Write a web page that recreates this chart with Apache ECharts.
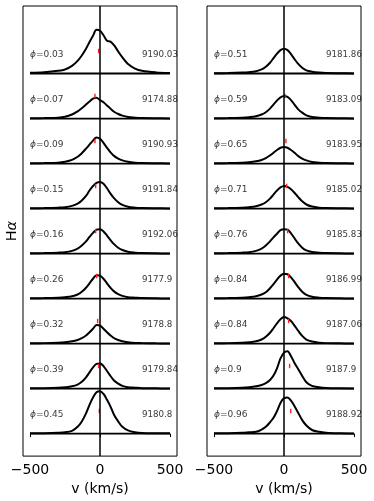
<!DOCTYPE html>
<html>
<head>
<meta charset="utf-8">
<script src="https://cdn.jsdelivr.net/npm/echarts@6/dist/echarts.min.js"></script>
<style>
html,body{margin:0;padding:0;background:#fff;}
#c{width:374px;height:501px;}
</style>
</head>
<body>
<div id="c"></div>
<script>
// velocity grid (km/s)
const velocity = [-500,-400,-300,-250,-200,-160,-130,-100,-75,-50,-25,0,25,50,75,100,130,160,200,250,300,400,500];
const xTicks = [-500, 0, 500];

// left panel (top to bottom)
const leftPhases = ['0.03','0.07','0.09','0.15','0.16','0.26','0.32','0.39','0.45'];
const leftDates = ['9190.03','9174.88','9190.93','9191.84','9192.06','9177.9','9178.8','9179.84','9180.8'];
const leftRV = [-10,-36,-36,-31,-31,-24,-17,-10,-5];
const leftFlux = [
  [0.015,0.03,0.06,0.09,0.17,0.28,0.40,0.55,0.70,0.84,0.97,0.95,0.85,0.73,0.71,0.63,0.49,0.36,0.21,0.11,0.06,0.025,0.012],
  [0.005,0.01,0.02,0.04,0.09,0.16,0.23,0.31,0.38,0.44,0.46,0.41,0.36,0.29,0.22,0.15,0.10,0.065,0.035,0.02,0.01,0.005,0.003],
  [0.005,0.01,0.02,0.04,0.08,0.15,0.23,0.33,0.42,0.51,0.58,0.55,0.46,0.35,0.25,0.17,0.11,0.07,0.04,0.02,0.01,0.005,0.003],
  [0.005,0.01,0.02,0.03,0.06,0.11,0.18,0.28,0.40,0.50,0.57,0.59,0.55,0.45,0.33,0.23,0.14,0.08,0.04,0.02,0.01,0.005,0.003],
  [0.005,0.01,0.02,0.03,0.06,0.11,0.18,0.27,0.37,0.46,0.53,0.54,0.49,0.40,0.30,0.21,0.13,0.08,0.04,0.02,0.01,0.005,0.003],
  [0.005,0.01,0.02,0.03,0.05,0.09,0.15,0.24,0.34,0.44,0.52,0.51,0.44,0.34,0.24,0.16,0.10,0.06,0.03,0.02,0.01,0.005,0.003],
  [0.005,0.01,0.02,0.03,0.05,0.08,0.12,0.18,0.25,0.33,0.41,0.40,0.33,0.25,0.18,0.12,0.08,0.05,0.03,0.015,0.01,0.005,0.003],
  [0.005,0.01,0.02,0.03,0.05,0.09,0.15,0.25,0.36,0.47,0.55,0.56,0.50,0.39,0.28,0.18,0.11,0.06,0.03,0.02,0.01,0.005,0.003],
  [0.005,0.01,0.02,0.03,0.06,0.15,0.27,0.45,0.64,0.80,0.92,0.94,0.88,0.75,0.60,0.42,0.27,0.15,0.07,0.03,0.015,0.008,0.005]
];

// right panel (top to bottom)
const rightPhases = ['0.51','0.59','0.65','0.71','0.76','0.84','0.84','0.9','0.96'];
const rightDates = ['9181.86','9183.09','9183.95','9185.02','9185.83','9186.99','9187.06','9187.9','9188.92'];
const rightRV = [-2,7,14,19,26,33,33,40,48];
const rightFlux = [
  [0.005,0.01,0.02,0.03,0.05,0.09,0.15,0.24,0.34,0.44,0.52,0.55,0.52,0.43,0.32,0.22,0.13,0.07,0.04,0.02,0.01,0.005,0.003],
  [0.005,0.01,0.02,0.03,0.05,0.09,0.14,0.22,0.31,0.40,0.47,0.50,0.48,0.41,0.31,0.21,0.13,0.07,0.035,0.02,0.01,0.005,0.003],
  [0.005,0.01,0.02,0.03,0.05,0.08,0.12,0.18,0.24,0.30,0.35,0.37,0.35,0.30,0.24,0.17,0.11,0.07,0.035,0.02,0.01,0.005,0.003],
  [0.005,0.01,0.02,0.03,0.05,0.09,0.14,0.22,0.31,0.40,0.47,0.50,0.48,0.43,0.35,0.26,0.16,0.09,0.045,0.02,0.01,0.005,0.003],
  [0.005,0.01,0.02,0.03,0.06,0.11,0.18,0.27,0.36,0.44,0.52,0.54,0.53,0.45,0.34,0.23,0.13,0.07,0.035,0.02,0.01,0.005,0.003],
  [0.005,0.01,0.02,0.03,0.05,0.09,0.14,0.23,0.32,0.42,0.51,0.55,0.54,0.47,0.37,0.26,0.15,0.08,0.04,0.02,0.01,0.005,0.003],
  [0.005,0.01,0.02,0.03,0.05,0.09,0.15,0.24,0.34,0.45,0.54,0.59,0.56,0.50,0.40,0.29,0.17,0.09,0.045,0.02,0.01,0.005,0.003],
  [0.005,0.01,0.02,0.03,0.05,0.08,0.12,0.19,0.29,0.45,0.67,0.80,0.83,0.72,0.57,0.44,0.28,0.14,0.06,0.03,0.015,0.006,0.003],
  [0.005,0.01,0.02,0.03,0.04,0.09,0.15,0.25,0.35,0.50,0.68,0.79,0.80,0.73,0.61,0.47,0.30,0.18,0.08,0.04,0.02,0.008,0.004]
];

// stacking offsets (top to bottom)
const offsets = [8,7,6,5,4,3,2,1,0];

const FONT = 'DejaVu Sans';

function panelSeries(gi, flux, rv, phases, dates){
  const s = [];
  flux.forEach((f, i) => {
    s.push({
      type:'line', xAxisIndex:gi, yAxisIndex:gi, smooth:0.35, symbol:'none', silent:true,
      lineStyle:{color:'#000', width:2},
      data: velocity.map((v,k)=>[v, offsets[i]+f[k]]),
      z:3
    });
  });
  // baselines
  const base = [];
  offsets.forEach(o => { base.push([xTicks[0], o]); base.push([xTicks[2], o]); base.push([null, null]); });
  s.push({type:'line', xAxisIndex:gi, yAxisIndex:gi, symbol:'none', silent:true, connectNulls:false,
    lineStyle:{color:'#000', width:1.8}, data:base, z:2,
    markLine:{silent:true, symbol:'none', label:{show:false}, lineStyle:{color:'#000', width:1.5, type:'solid'},
      data:[{xAxis:0}]}
  });
  // red rv ticks
  const ticks = [];
  rv.forEach((v,i) => { ticks.push([v, offsets[i]+0.45]); ticks.push([v, offsets[i]+0.55]); ticks.push([null,null]); });
  s.push({type:'line', xAxisIndex:gi, yAxisIndex:gi, symbol:'none', silent:true, connectNulls:false,
    lineStyle:{color:'#ff2020', width:1.4}, data:ticks, z:4});
  // labels
  s.push({type:'scatter', xAxisIndex:gi, yAxisIndex:gi, symbolSize:0, silent:true,
    data: phases.map((p,i)=>({value:[-500, offsets[i]+0.41], name:p})),
    label:{show:true, position:'right', distance:0,
      formatter: p => '{p|\u03D5}{t|=' + p.name + '}',
      rich:{p:{fontFamily:FONT, fontSize:9, fontStyle:'italic', color:'#000'}, t:{fontFamily:FONT, fontSize:9, color:'#000'}}}
  });
  s.push({type:'scatter', xAxisIndex:gi, yAxisIndex:gi, symbolSize:0, silent:true,
    data: dates.map((d,i)=>({value:[300, offsets[i]+0.41], name:d})),
    label:{show:true, position:'right', distance:0, formatter: p => p.name,
      fontFamily:FONT, fontSize:8.7, color:'#000'}
  });
  return s;
}

function xAxis(gi){
  return {
    type:'value', gridIndex:gi, min:-550, max:550,
    splitLine:{show:false},
    axisLine:{show:false},
    axisTick:{show:true, inside:false, length:3.5, customValues:xTicks, lineStyle:{color:'#000', width:1}},
    axisLabel:{show:true, customValues:xTicks, margin:7, fontFamily:FONT, fontSize:14, color:'#000',
      formatter: v => v < 0 ? '\u2212' + Math.abs(v) : String(v)},
    name:'v (km/s)', nameLocation:'middle', nameGap:25,
    nameTextStyle:{fontFamily:FONT, fontSize:14, color:'#000'}
  };
}
function yAxis(gi, withName){
  const a = {
    type:'value', gridIndex:gi, min:-0.5, max:9.5,
    splitLine:{show:false}, axisLine:{show:false}, axisTick:{show:false}, axisLabel:{show:false}
  };
  if (withName){
    a.name = '{h|H}{a|\u03B1}';
    a.nameLocation = 'middle';
    a.nameGap = 3;
    a.nameRotate = 90;
    a.nameTextStyle = {rich:{h:{fontFamily:FONT, fontSize:14.5, color:'#000'}, a:{fontFamily:FONT, fontSize:14.5, fontStyle:'italic', color:'#000'}}};
  }
  return a;
}

const chart = echarts.init(document.getElementById('c'), null, {renderer:'canvas'});
chart.setOption({
  animation:false,
  backgroundColor:'#fff',
  grid:[
    {left:23, top:6, width:154, height:451, show:true, borderColor:'#000', borderWidth:1, backgroundColor:'transparent'},
    {left:207, top:6, width:154, height:451, show:true, borderColor:'#000', borderWidth:1, backgroundColor:'transparent'}
  ],
  xAxis:[xAxis(0), xAxis(1)],
  yAxis:[yAxis(0,true), yAxis(1,false)],
  series:[].concat(panelSeries(0, leftFlux, leftRV, leftPhases, leftDates),
                   panelSeries(1, rightFlux, rightRV, rightPhases, rightDates))
});
</script>
</body>
</html>
